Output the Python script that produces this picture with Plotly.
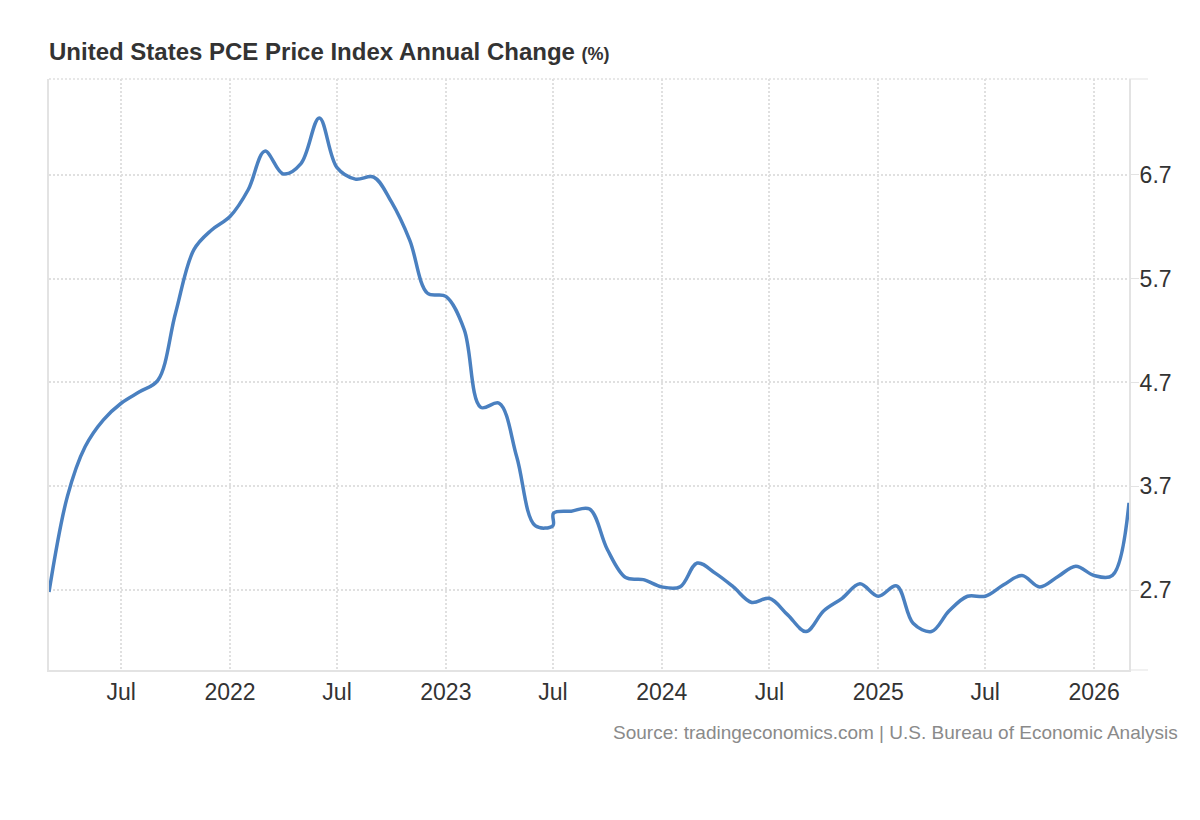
import plotly.graph_objects as go

# Monthly dates (with an extra point for the step in Jul 2023)
dates = [
    "2021-03-01", "2021-04-01", "2021-05-01", "2021-06-01", "2021-07-01", "2021-08-01",
    "2021-09-01", "2021-10-01", "2021-11-01", "2021-12-01",
    "2022-01-01", "2022-02-01", "2022-03-01", "2022-04-01", "2022-05-01", "2022-06-01",
    "2022-07-01", "2022-08-01", "2022-09-01", "2022-10-01", "2022-11-01", "2022-12-01",
    "2023-01-01", "2023-02-01", "2023-03-01", "2023-04-01", "2023-05-01", "2023-06-01",
    "2023-07-01", "2023-07-02", "2023-08-01", "2023-09-01", "2023-10-01", "2023-11-01",
    "2023-12-01",
    "2024-01-01", "2024-02-01", "2024-03-01", "2024-04-01", "2024-05-01", "2024-06-01",
    "2024-07-01", "2024-08-01", "2024-09-01", "2024-10-01", "2024-11-01", "2024-12-01",
    "2025-01-01", "2025-02-01", "2025-03-01", "2025-04-01", "2025-05-01", "2025-06-01",
    "2025-07-01", "2025-08-01", "2025-09-01", "2025-10-01", "2025-11-01", "2025-12-01",
    "2026-01-01", "2026-02-01", "2026-03-01",
]

pce_yoy = [
    2.68, 3.60, 4.08, 4.34, 4.50, 4.61,
    4.72, 5.37, 5.98, 6.17,
    6.30, 6.56, 6.93, 6.71, 6.81, 7.25,
    6.77, 6.66, 6.68, 6.44, 6.07, 5.56,
    5.53, 5.21, 4.46, 4.50, 3.98, 3.32,
    3.32, 3.44, 3.46, 3.48, 3.09, 2.82,
    2.80,
    2.73, 2.73, 2.96, 2.86, 2.73, 2.58,
    2.62, 2.46, 2.30, 2.50, 2.62, 2.76,
    2.64, 2.74, 2.38, 2.30, 2.50, 2.64,
    2.64, 2.75, 2.84, 2.73, 2.83, 2.93,
    2.84, 2.84, 3.54,
]

x_tick_vals = ["2021-07-01", "2022-01-01", "2022-07-01", "2023-01-01", "2023-07-01",
               "2024-01-01", "2024-07-01", "2025-01-01", "2025-07-01", "2026-01-01"]
x_tick_text = ["Jul", "2022", "Jul", "2023", "Jul", "2024", "Jul", "2025", "Jul", "2026"]

y_tick_vals = [2.7, 3.7, 4.7, 5.7, 6.7]
y_tick_text = ["2.7", "3.7", "4.7", "5.7", "6.7"]

FONT = "Liberation Sans, Arial, Helvetica, sans-serif"
GRID = "#e0e0e0"
AXIS = "#e3e3e3"
DOT = "2px,2px"

fig = go.Figure()
fig.add_trace(go.Scatter(
    x=dates, y=pce_yoy, mode="lines",
    line=dict(color="#4a80c0", width=3.5, shape="spline", smoothing=1),
    hoverinfo="skip", showlegend=False,
))

fig.update_layout(
    width=1200, height=820,
    margin=dict(l=41, r=79, t=71, b=158),
    paper_bgcolor="white", plot_bgcolor="white",
    font=dict(family=FONT, color="#333333"),
    showlegend=False,
    xaxis=dict(
        range=["2021-03-01", "2026-03-01"],
        tickvals=x_tick_vals, ticktext=x_tick_text,
        showgrid=True, gridcolor=GRID, griddash=DOT, gridwidth=1.5,
        showline=True, linecolor=AXIS, linewidth=2,
        ticks="", tickfont=dict(size=23, color="#333333"),
        zeroline=False,
    ),
    yaxis=dict(
        side="right",
        range=[1.929, 7.625],
        tickvals=y_tick_vals, ticktext=y_tick_text,
        showgrid=True, gridcolor=GRID, griddash=DOT, gridwidth=1.5,
        showline=True, mirror=True, linecolor=AXIS, linewidth=2,
        ticks="outside", ticklen=8, tickcolor=AXIS, tickwidth=1,
        ticklabelstandoff=-4,
        tickfont=dict(size=23, color="#333333"),
        zeroline=False,
    ),
    shapes=[
        dict(type="line", xref="paper", yref="paper", x0=0, x1=1, y0=1, y1=1,
             line=dict(color=GRID, width=1.5, dash=DOT)),
        dict(type="line", xref="paper", yref="paper", x0=1, x1=1 + 19 / 1080, y0=1, y1=1,
             line=dict(color=AXIS, width=1)),
        dict(type="line", xref="paper", yref="paper", x0=1, x1=1 + 19 / 1080, y0=0, y1=0,
             line=dict(color=AXIS, width=1)),
    ],
    annotations=[
        dict(
            xref="paper", yref="paper", x=-2 / 1080, y=1 + 27 / 591,
            xanchor="left", yanchor="middle", showarrow=False,
            text="<b>United States PCE Price Index Annual Change</b> <b><span style='font-size:18px'>(%)</span></b>",
            font=dict(size=24, color="#333333", family=FONT),
        ),
        dict(
            xref="paper", yref="paper", x=(1180 - 49) / 1080, y=-62 / 591,
            xanchor="right", yanchor="middle", showarrow=False,
            text="Source: tradingeconomics.com | U.S. Bureau of Economic Analysis",
            font=dict(size=19, color="#8a8a8a", family=FONT),
        ),
    ],
)

fig.write_html("out.html")
